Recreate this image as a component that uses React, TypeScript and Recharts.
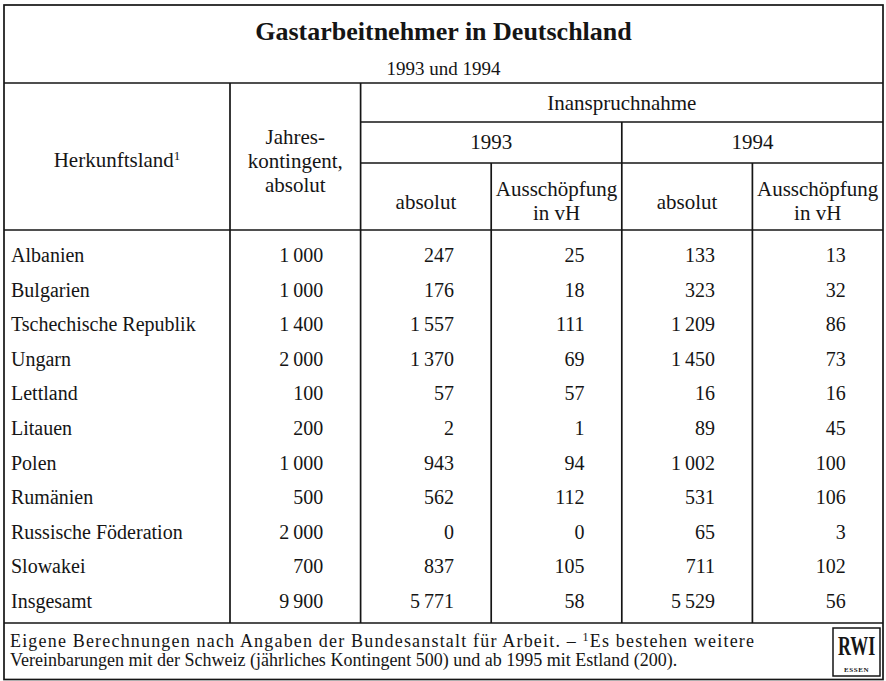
import React from 'react';
import { ScatterChart, Scatter, XAxis, YAxis, Customized } from 'recharts';

// ---------- data ----------
const countries = [
  'Albanien', 'Bulgarien', 'Tschechische Republik', 'Ungarn', 'Lettland', 'Litauen',
  'Polen', 'Rumänien', 'Russische Föderation', 'Slowakei', 'Insgesamt',
];
const kontingent = [1000, 1000, 1400, 2000, 100, 200, 1000, 500, 2000, 700, 9900];
const abs1993 = [247, 176, 1557, 1370, 57, 2, 943, 562, 0, 837, 5771];
const aus1993 = [25, 18, 111, 69, 57, 1, 94, 112, 0, 105, 58];
const abs1994 = [133, 323, 1209, 1450, 16, 89, 1002, 531, 65, 711, 5529];
const aus1994 = [13, 32, 86, 73, 16, 45, 100, 106, 3, 102, 56];

const colKeys = ['kontingent', 'abs1993', 'aus1993', 'abs1994', 'aus1994'];
const colHeaders = [
  ['Jahres-', 'kontingent,', 'absolut'],
  ['absolut'],
  ['Ausschöpfung', 'in vH'],
  ['absolut'],
  ['Ausschöpfung', 'in vH'],
];
const title = 'Gastarbeitnehmer in Deutschland';
const subtitle = '1993 und 1994';
const rowHeader = 'Herkunftsland';
const groupHeader = 'Inanspruchnahme';
const yearHeaders = ['1993', '1994'];
const footLine1 = 'Eigene Berechnungen nach Angaben der Bundesanstalt für Arbeit. – ';
const footLine1b = 'Es bestehen weitere';
const footLine2 = 'Vereinbarungen mit der Schweiz (jährliches Kontingent 500) und ab 1995 mit Estland (200).';
const logoText = 'RWI';
const logoSub = 'ESSEN';

// ---------- layout ----------
const W = 886;
const H = 681;
const FONT = '"Liberation Serif", "Times New Roman", serif';
const INK = '#151515';
const LEFT = 4;
const RIGHT = 883;
const Y_AXIS_W = 226;
const PLOT_L = LEFT + Y_AXIS_W;
const BAND = (RIGHT - PLOT_L) / colKeys.length;
const colLine = (i: number) => PLOT_L + i * BAND;

const fmt = (v: number) => {
  const s = String(v);
  return s.length > 3 ? s.slice(0, s.length - 3) + '\u2009' + s.slice(s.length - 3) : s;
};

const series = [kontingent, abs1993, aus1993, abs1994, aus1994].map((arr, ci) =>
  arr.map((v, ri) => ({ col: colKeys[ci], country: countries[ri], label: fmt(v) }))
);

const CellText = (props: any) => {
  const { cx, cy, payload } = props;
  if (cx == null || cy == null) return null;
  return (
    <text x={cx + 28} y={cy} dy="0.35em" textAnchor="end" fontFamily={FONT} fontSize={20} fill={INK}>
      {payload.label}
    </text>
  );
};

const RowTick = (props: any) => {
  const { y, payload } = props;
  return (
    <text x={LEFT + 7} y={y} dy="0.35em" textAnchor="start" fontFamily={FONT} fontSize={20} fill={INK}>
      {payload.value}
    </text>
  );
};

const ColTick = (props: any) => {
  const { x, payload } = props;
  const idx = colKeys.indexOf(payload.value);
  const lines = colHeaders[idx] || [];
  const start = lines.length === 3 ? 137 : lines.length === 2 ? 189 : 202;
  return (
    <g>
      {lines.map((ln, i) => (
        <text key={i} x={x} y={start + i * 24} dy="0.35em" textAnchor="middle" fontFamily={FONT} fontSize={21} fill={INK}>
          {ln}
        </text>
      ))}
    </g>
  );
};

const Frame = () => {
  const sw = 1.7;
  const hl = (y: number, x1: number, x2: number, k: string) => (
    <line key={k} x1={x1} x2={x2} y1={y} y2={y} stroke={INK} strokeWidth={sw} />
  );
  const vl = (x: number, y1: number, y2: number, k: string) => (
    <line key={k} x1={x} x2={x} y1={y1} y2={y2} stroke={INK} strokeWidth={sw} />
  );
  return (
    <g>
      <rect x={LEFT} y={5} width={RIGHT - LEFT} height={674.5} fill="none" stroke={INK} strokeWidth={sw} />
      {hl(83, LEFT, RIGHT, 'h1')}
      {hl(122, colLine(1), RIGHT, 'h2')}
      {hl(163, colLine(1), RIGHT, 'h3')}
      {hl(230, LEFT, RIGHT, 'h4')}
      {hl(623, LEFT, RIGHT, 'h5')}
      {vl(colLine(0), 83, 623, 'v0')}
      {vl(colLine(1), 83, 623, 'v1')}
      {vl(colLine(2), 163, 623, 'v2')}
      {vl(colLine(3), 122, 623, 'v3')}
      {vl(colLine(4), 163, 623, 'v4')}
      <text x={(LEFT + RIGHT) / 2} y={31} dy="0.35em" textAnchor="middle" fontFamily={FONT} fontSize={26} fontWeight="bold" fill={INK}>
        {title}
      </text>
      <text x={(LEFT + RIGHT) / 2} y={68} dy="0.35em" textAnchor="middle" fontFamily={FONT} fontSize={19} fill={INK}>
        {subtitle}
      </text>
      <text x={(LEFT + colLine(0)) / 2} y={160} dy="0.35em" textAnchor="middle" fontFamily={FONT} fontSize={21} fill={INK}>
        {rowHeader}
        <tspan fontSize={13} dy="-0.55em">1</tspan>
      </text>
      <text x={(colLine(1) + RIGHT) / 2} y={103} dy="0.35em" textAnchor="middle" fontFamily={FONT} fontSize={21} fill={INK}>
        {groupHeader}
      </text>
      <text x={(colLine(1) + colLine(3)) / 2} y={142} dy="0.35em" textAnchor="middle" fontFamily={FONT} fontSize={21} fill={INK}>
        {yearHeaders[0]}
      </text>
      <text x={(colLine(3) + RIGHT) / 2} y={142} dy="0.35em" textAnchor="middle" fontFamily={FONT} fontSize={21} fill={INK}>
        {yearHeaders[1]}
      </text>
      <text x={LEFT + 6} y={647} textLength={744} lengthAdjust="spacing" fontFamily={FONT} fontSize={18} fill={INK}>
        {footLine1}
        <tspan fontSize={12} dy={-6}>1</tspan>
        <tspan dy={6}>{footLine1b}</tspan>
      </text>
      <text x={LEFT + 6} y={666} fontFamily={FONT} fontSize={18} fill={INK}>
        {footLine2}
      </text>
      <rect x={833} y={628} width={47} height={48} fill="none" stroke={INK} strokeWidth={1.5} />
      <g transform="translate(856.5,655) scale(0.64,1)">
        <text x={0} y={0} textAnchor="middle" fontFamily={FONT} fontSize={28} fontWeight="bold" fill={INK}>
          {logoText}
        </text>
      </g>
      <text x={856.5} y={672} textAnchor="middle" fontFamily={FONT} fontSize={7} fontWeight="bold" letterSpacing={0.6} fill={INK}>
        {logoSub}
      </text>
    </g>
  );
};

export default function App() {
  return (
    <div style={{ position: 'absolute', left: 0, top: 0, width: W, height: H, background: '#fff' }}>
      <ScatterChart width={W} height={H} margin={{ top: 218, right: W - RIGHT, bottom: 63, left: LEFT }}>
        <XAxis
          xAxisId="c"
          dataKey="col"
          type="category"
          orientation="top"
          height={20}
          allowDuplicatedCategory={false}
          axisLine={false}
          tickLine={false}
          interval={0}
          tick={<ColTick />}
        />
        <YAxis
          yAxisId="r"
          dataKey="country"
          type="category"
          width={Y_AXIS_W}
          reversed
          allowDuplicatedCategory={false}
          axisLine={false}
          tickLine={false}
          interval={0}
          tick={<RowTick />}
        />
        {series.map((d, i) => (
          <Scatter key={colKeys[i]} xAxisId="c" yAxisId="r" data={d} shape={<CellText />} isAnimationActive={false} />
        ))}
        <Customized component={<Frame />} />
      </ScatterChart>
    </div>
  );
}
